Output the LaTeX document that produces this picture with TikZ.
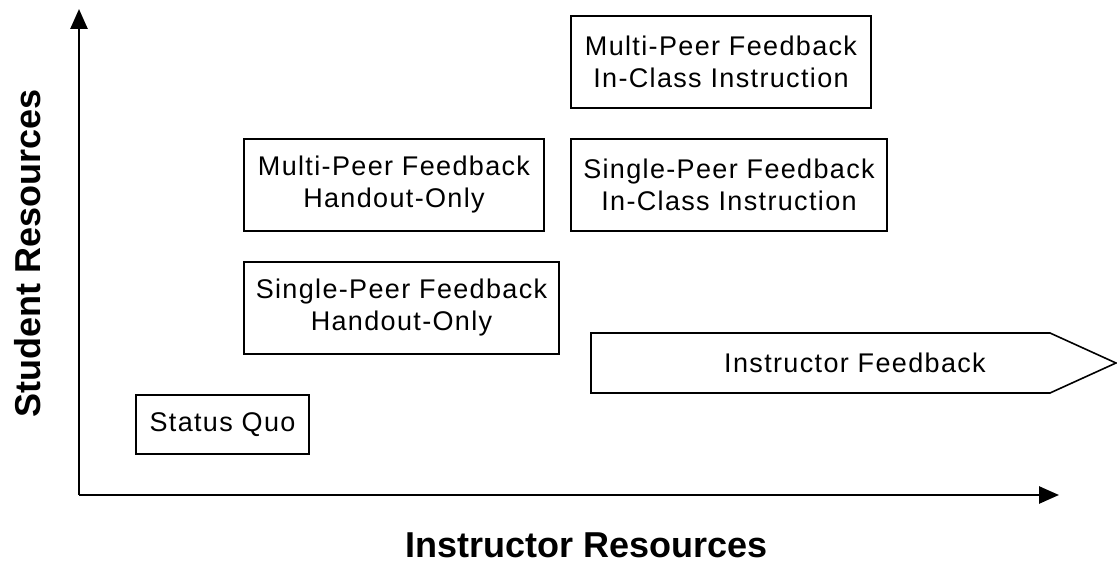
\documentclass[tikz,border=0pt]{standalone}
\usepackage{fontspec}
\setmainfont{Liberation Sans}
\newfontfamily\boxfont[LetterSpace=5]{Liberation Sans}
\usetikzlibrary{arrows.meta}
\tikzset{
  boxtext/.style={font=\boxfont\fontsize{27}{32}\selectfont},
  box/.style={boxtext, draw, line width=1.6pt, align=center, inner sep=0pt},
  axis/.style={line width=2.6pt, -{Triangle[length=20pt,width=17pt]}},
  axislabel/.style={font=\fontsize{36}{40}\selectfont\bfseries}
}
\begin{document}
\begin{tikzpicture}[x=1pt,y=-1pt]
  \useasboundingbox (0,0) rectangle (1117,569);
  % axes
  \coordinate (o) at (79,495);
  \coordinate (ytip) at (79,9);
  \coordinate (xtip) at (1059,495);
  \draw[axis] (o) -- (ytip);
  \draw[axis] (o) -- (xtip);
  \node[axislabel, rotate=90] (ylab) at (28,253) {Student Resources};
  \node[axislabel] (xlab) at (587,545) {Instructor Resources};
  % options
  \node[box, minimum width=300pt, minimum height=92pt] (mpic) at (721,62)
    {Multi-Peer Feedback\\In-Class Instruction};
  \node[box, minimum width=316pt, minimum height=92pt] (spic) at (729,185)
    {Single-Peer Feedback\\In-Class Instruction};
  \node[box, minimum width=300pt, minimum height=92pt] (mpho) at (394,185)
    {Multi-Peer Feedback\\Handout-Only};
  \node[box, minimum width=315pt, minimum height=92pt] (spho) at (401.5,308)
    {Single-Peer Feedback\\Handout-Only};
  \node[box, minimum width=173pt, minimum height=59pt] (sq) at (222.5,424.5)
    {Status Quo};
  % instructor feedback pointer
  \draw[line width=1.6pt, line join=miter]
    (591,333) -- (1050,333) -- (1116,363) -- (1050,393) -- (591,393) -- cycle;
  \node[boxtext] (ifb) at (855,363) {Instructor Feedback};
\end{tikzpicture}
\end{document}
